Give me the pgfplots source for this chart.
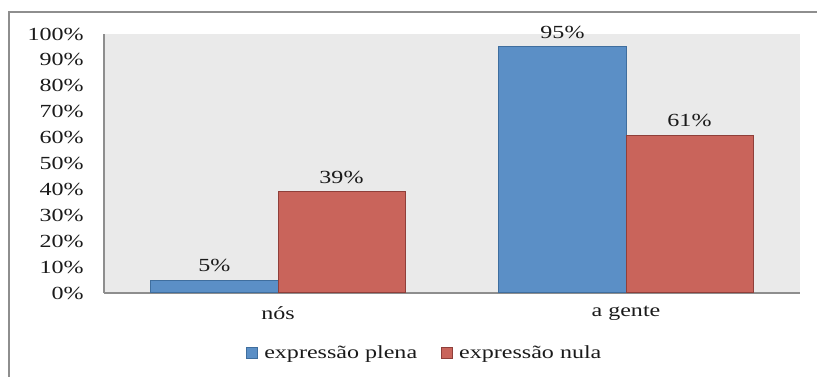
\documentclass[border=0pt]{standalone}
\usepackage{fontspec}
\setmainfont{Liberation Serif}[FakeStretch=1.3]
\usepackage{pgfplots}
\pgfplotsset{compat=1.18}
\definecolor{barblue}{HTML}{5B8FC6}
\definecolor{barblueedge}{HTML}{3F6E9E}
\definecolor{barred}{HTML}{C9645B}
\definecolor{barrededge}{HTML}{8F3F3A}
\definecolor{plotbg}{HTML}{EAEAEA}
\definecolor{framegray}{HTML}{8E8E8E}
\definecolor{txt}{HTML}{1A1A1A}
\begin{document}
\fontsize{18.5}{22}\selectfont
\begin{tikzpicture}
\useasboundingbox (0pt,0pt) rectangle (817pt,377pt);
\draw[framegray, line width=1.5pt] (9pt,-3pt) -- (9pt,365pt) -- (820pt,365pt);
\begin{axis}[
  at={(104pt,84pt)}, anchor=south west,
  width=696pt, height=259pt, scale only axis,
  xmin=-0.5, xmax=1.5, ymin=0, ymax=100,
  xtick={0,1}, xticklabels={nós, a gente},
  ytick={0,10,...,100},
  yticklabel={\pgfmathprintnumber{\tick}\%},
  /pgf/number format/assume math mode=true,
  axis background/.style={fill=plotbg},
  axis x line*=bottom, axis y line*=left,
  axis line style={framegray, line width=1.5pt, -},
  major tick length=0pt,
  tick label style={text=txt},
  yticklabel style={xshift=-14pt},
  xticklabel style={yshift=-7pt},
  ybar=0pt,
  bar width=0.365,
  nodes near coords={\pgfmathprintnumber{\pgfplotspointmeta}\%},
  every node near coord/.append style={anchor=south, yshift=2pt, text=txt},
  legend style={at={(0.461,-0.235)}, anchor=center, legend columns=2,
    draw=none, fill=none, text=txt,
    /tikz/every odd column/.append style={column sep=4pt},
    /tikz/every even column/.append style={column sep=22pt}},
  legend image code/.code={\draw[#1, line width=1pt] (0pt,-5pt) rectangle (11pt,6pt);},
]
\addplot[fill=barblue, draw=barblueedge, line width=1pt, bar shift=-0.1825]
  coordinates {(0,5) (1,95)};
\addplot[fill=barred, draw=barrededge, line width=1pt, bar shift=0.1825]
  coordinates {(0,39) (1,61)};
\legend{expressão plena, expressão nula}
\end{axis}
\end{tikzpicture}
\end{document}
